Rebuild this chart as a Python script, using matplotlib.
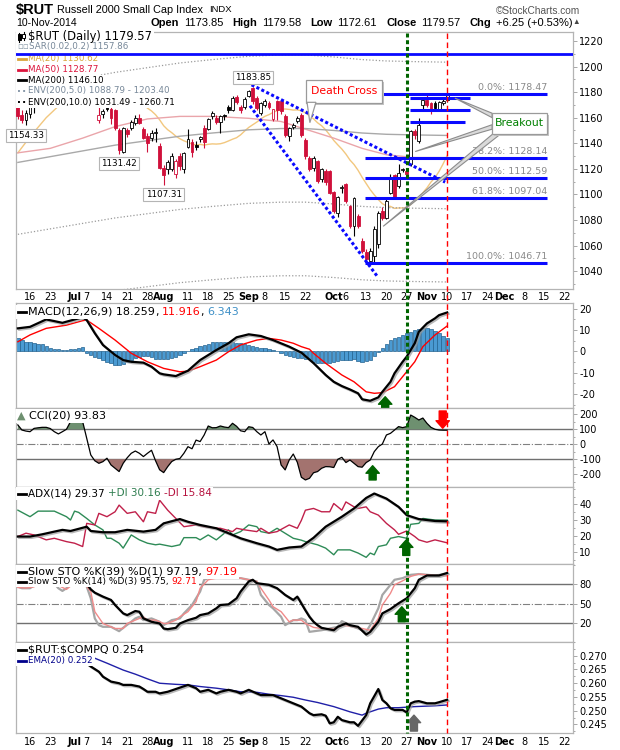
import numpy as np
import pandas as pd
import matplotlib
matplotlib.use("Agg")
import matplotlib.pyplot as plt
import matplotlib.patheffects as pe
from matplotlib.patches import Rectangle, Polygon, FancyArrowPatch
from matplotlib.lines import Line2D
from matplotlib.transforms import blended_transform_factory
from matplotlib.ticker import AutoMinorLocator, FormatStrFormatter

plt.rcParams["font.family"] = ["DejaVu Sans"]
plt.rcParams["axes.unicode_minus"] = False

W, H = 620, 750
HEAD = ["Liberation Sans", "DejaVu Sans"]

# sessions are counted from Mon 16 Jun 2014 (= 0); the chart starts 3 sessions earlier
first_session = -3

opens = [1168, 1162, 1158, 1163, 1168, 1172, 1180, 1183, 1188, 1187, 1176, 1184, 1183, 1192, 1193, 1207, 1201, 1206, 1187, 1176,
         1158, 1163, 1168, 1167, 1166, 1150, 1133, 1150, 1152, 1156, 1160, 1151, 1146, 1144, 1148, 1138, 1121, 1120, 1120, 1116,
         1130, 1120, 1137, 1141, 1139, 1143, 1152, 1151, 1161, 1160, 1157, 1162, 1168, 1166, 1176.5, 1168.5, 1168.5, 1177, 1183, 1175.3,
         1164, 1170, 1171.5, 1159, 1172.7, 1172.7, 1161, 1145.4, 1152.7, 1157.1, 1162.3, 1142.8, 1128.6, 1120.8, 1126, 1111.7, 1118, 1118.2, 1101.8, 1085.7,
         1105, 1107.8, 1090.9, 1075.3, 1083, 1063.6, 1055, 1048, 1051.9, 1061, 1087, 1081.8, 1101.3, 1114.8, 1106.5, 1119.3, 1118.2, 1123.4, 1149.3, 1141.5,
         1170.1, 1174, 1171.4, 1171.4, 1166.7, 1171.4, 1173.85]
highs = [1170, 1166, 1166, 1170, 1172, 1181, 1184, 1190, 1191, 1190, 1185, 1187, 1193, 1197, 1210, 1208, 1209, 1207, 1188, 1182,
         1168, 1167, 1170, 1170, 1167, 1152, 1153, 1152, 1158, 1162, 1163, 1153, 1148, 1150, 1152, 1140, 1123, 1127, 1132, 1128,
         1132, 1133, 1151, 1143, 1142, 1146, 1154, 1160, 1165, 1162, 1162, 1163, 1170, 1177, 1178, 1170, 1176, 1182, 1183.85, 1177,
         1172.5, 1174.5, 1173, 1167, 1174, 1174, 1163, 1153, 1156, 1161, 1164, 1144, 1130, 1130, 1127, 1120.5, 1119.5, 1119, 1102.5, 1099,
         1107, 1109, 1091.5, 1098, 1085, 1066, 1057, 1058, 1075, 1087, 1090, 1096, 1115.6, 1116, 1123.4, 1121, 1119, 1150, 1151, 1159.7,
         1175.5, 1179.2, 1172.5, 1173, 1173, 1174.5, 1179.58]
lows = [1159, 1156, 1154.33, 1160, 1164, 1170, 1176, 1181, 1184, 1175, 1174, 1178, 1181, 1190, 1192, 1198, 1200, 1186, 1174, 1173,
        1156, 1160, 1165, 1155, 1150, 1131.42, 1132, 1145, 1150, 1154, 1155, 1143, 1133, 1142, 1141, 1120, 1107.31, 1116, 1118, 1113,
        1119, 1117, 1136, 1129, 1135, 1141, 1136, 1150, 1159, 1155, 1148, 1158, 1164, 1165, 1171, 1164, 1167, 1176, 1171, 1166,
        1162, 1168.5, 1167, 1157.5, 1158, 1163, 1145, 1141.5, 1151, 1156, 1145, 1128, 1118, 1118.5, 1109, 1110, 1107, 1100, 1085.5, 1082,
        1101, 1093, 1074, 1067.5, 1074, 1054, 1047, 1046.71, 1047.5, 1058, 1080, 1081, 1100, 1096, 1105, 1117.5, 1113.5, 1122, 1143, 1140,
        1167, 1168, 1163, 1165, 1165, 1170, 1172.61]
closes = [1161, 1158, 1164, 1168, 1171, 1180, 1182, 1188, 1187, 1177, 1184, 1183, 1192, 1192, 1208, 1200, 1208, 1188, 1176, 1180,
          1162, 1165, 1167, 1160, 1152, 1135, 1152, 1147, 1157, 1160, 1156, 1144, 1140, 1148, 1149, 1121, 1115, 1125, 1130, 1126,
          1122, 1132, 1143, 1133, 1137, 1145, 1141, 1159, 1164, 1157, 1161, 1161.5, 1166, 1175.5, 1172.5, 1166, 1174.8, 1180.5, 1172.7, 1167.5,
          1171.4, 1173.2, 1168.5, 1167, 1166, 1164.9, 1146.7, 1151.9, 1154.5, 1159.7, 1146.7, 1129.8, 1119.5, 1128.6, 1110.4, 1119.5, 1110, 1101.3, 1087, 1097.9,
          1105.5, 1094.8, 1075.3, 1097.4, 1075.3, 1055.8, 1049.3, 1055.8, 1073.2, 1085.7, 1081.8, 1094.8, 1113, 1097.4, 1116.9, 1119.6, 1115.6, 1149.3, 1146.7, 1154.5,
          1174, 1170.1, 1166.2, 1167.5, 1172.2, 1173.32, 1179.57]

# moving averages (weekly points); MA(20) early part read, rest from closes
ma20_early_day = [-3, 0, 4, 8, 12]
ma20_early = [1132.5, 1145, 1160, 1172, 1180]
ma_day = [-3, 5, 13, 21, 29, 37, 45, 54, 62, 68, 75, 82, 88, 95, 103]
ma50 = [1132.5, 1136, 1144, 1153, 1159, 1161, 1161, 1159.5, 1157, 1151, 1144, 1136, 1131, 1128.8, 1128.77]
ma200 = [1125, 1129.5, 1134, 1138.5, 1142, 1145.5, 1148, 1150.5, 1151.5, 1151.5, 1150, 1148, 1147, 1146.5, 1146.1]
env_pct = [5.0, 10.0]

fib_names = ["0.0%", "38.2%", "50.0%", "61.8%", "100.0%"]
fib_levels = [1178.47, 1128.14, 1112.59, 1097.04, 1046.71]
top_line = 1209.6
short_levels = [1175.3, 1165.7, 1156.6]

macd_day = [-3, 0, 4, 8, 12, 13, 14, 16, 18, 21, 23, 25, 28, 30, 32, 33, 36, 39, 42, 46, 49, 51, 54, 57, 60, 64, 67, 70, 73, 75,
            77, 79, 81, 82, 84, 86, 87, 89, 90, 92, 93, 95, 96, 98, 100, 101, 103]
macd_line = [10.8, 11.5, 15.0, 13.4, 15.5, 16.0, 14.7, 8.5, 3.0, -1.7, -4.1, -4.9, -5.3, -7.2, -10.3, -10.8, -11.6, -9.1, -4.1, 0.6,
             3.8, 6.6, 8.0, 7.2, 5.3, 2.2, -0.6, -5.5, -11.1, -14.3, -16.3, -17.9, -19.7, -22.5, -23.2, -21.6, -19.0, -14.3, -10.3, -4.9,
             -2.5, 3.8, 9.2, 13.1, 15.5, 17.0, 18.259]
signal_day = [-3, 0, 4, 9, 13, 14, 17, 21, 25, 29, 33, 37, 39, 42, 46, 49, 52, 56, 59, 62, 65, 67, 69, 70, 73, 77, 80, 83, 85, 87,
              90, 92, 95, 97, 100, 103]
signal_line = [4.5, 7.7, 10.8, 12.3, 14.4, 14.7, 10.8, 5.3, -0.9, -4.9, -8.0, -9.6, -9.3, -7.2, -4.1, -0.2, 3.0, 5.3, 6.1, 5.3,
               3.8, 2.2, 1.0, -0.9, -5.6, -11.1, -14.3, -19.0, -19.7, -19.4, -16.6, -11.9, -4.9, 2.2, 7.7, 11.916]
macd_hist = [6.1, 5.5, 4.6, 4.2, 3.9, 3.6, 3.3, 2.5, 1.6, 1.2, 0.9, 0.8, 0.6, 0.9, 1.2, 1.6, 1.9, -0.8, -1.7, -2.5,
             -3.3, -4.2, -5.0, -5.7, -6.2, -6.4, -6.0, -5.2, -4.2, -3.0, -2.5, -2.4, -2.2, -2.8, -3.4, -3.8, -3.8, -3.5, -3.0, -2.5,
             -1.8, -1.0, 0.3, 1.2, 1.8, 2.6, 3.0, 3.6, 4.2, 4.6, 4.6, 4.6, 4.6, 4.4, 4.0, 3.7, 3.3, 3.0, 2.5, 2.2,
             1.8, 1.4, 1.0, 0.6, 0.2, -0.9, -1.5, -2.0, -2.6, -3.0, -3.3, -3.6, -3.8, -4.8, -5.7, -5.7, -5.7, -5.3, -4.9, -4.5,
             -4.1, -4.0, -3.9, -3.8, -4.3, -4.9, -4.6, -4.0, -2.0, -0.2, 1.5, 3.5, 5.2, 6.2, 6.8, 7.6, 8.6, 9.3, 9.8, 10.3,
             10.8, 11.0, 10.6, 9.6, 8.6, 7.2, 6.343]

cci = [129, 95, 88, 84, 106, 110, 113, 113, 105, 84, 69, 84, 100, 151, 155, 157, 151, 40, -71, -110,
       -127, -116, -93, -138, -160, -182, -127, -90, -60, -45, -60, -82, -60, -40, -110, -170, -189, -149, -115, -100,
       -95, -60, -16, -30, 28, 18, 62, 122, 110, 111, 122, 115, 111, 140, 120, 90, 84, 117, 112, 84,
       62, 84, 2, 29, -15, -138, -171, -105, -65, -120, -220, -238, -227, -190, -182, -160, -149, -150, -155, -100,
       -87, -122, -105, -127, -149, -153, -122, -105, -49, -16, 2, 62, 73, 95, 118, 111, 118, 195, 180, 162,
       175, 140, 113, 100, 95, 94, 93.83]

adx_day = [-3, 0, 3, 6, 8, 10, 14, 15, 18, 21, 24, 28, 31, 33, 37, 39, 42, 46, 49, 52, 56, 59, 61, 64, 67, 70, 73, 77, 80, 83,
           85, 88, 91, 93, 96, 100, 103]
adx_line = [19.8, 19.8, 21.2, 22.9, 24.0, 23.3, 26.0, 23.3, 22.5, 22.5, 24.0, 22.9, 24.0, 28.1, 30.8, 29.1, 27.1, 25.0, 21.9, 18.7,
            15.6, 13.5, 11.4, 12.9, 13.5, 19.0, 26.0, 32.3, 37.5, 44.1, 46.9, 43.7, 38.5, 33.3, 30.8, 29.6, 29.37]
pdi_day = [-3, 0, 2, 6, 9, 10, 11, 12, 14, 16, 18, 19, 20, 22, 23, 25, 27, 29, 31, 32, 35, 37, 38, 41, 42, 44, 46, 47, 49, 50,
           52, 54, 56, 57, 59, 61, 65, 67, 68, 71, 73, 75, 76, 79, 81, 83, 84, 85, 86, 88, 89, 91, 93, 94, 96, 97, 100, 103]
pdi_line = [36.4, 32.3, 35.8, 35.8, 32.3, 30.2, 35.8, 35.0, 31.2, 27.1, 24.0, 18.7, 18.7, 15.6, 12.5, 20.8, 17.7, 15.6, 14.6, 15.0,
            13.5, 14.6, 19.1, 19.1, 17.7, 20.8, 17.7, 19.8, 24.0, 20.8, 22.9, 27.1, 26.0, 22.9, 21.9, 25.0, 18.7, 17.5, 16.6, 14.6,
            12.5, 8.3, 11.4, 11.4, 9.4, 6.7, 9.4, 8.3, 13.5, 14.6, 18.7, 19.8, 18.7, 27.5, 28.1, 31.2, 30.2, 30.16]
ndi_day = [-3, -1, 1, 4, 6, 9, 11, 13, 14, 16, 17, 19, 21, 22, 24, 26, 28, 29, 31, 32, 34, 36, 38, 41, 43, 46, 47, 50, 51, 53,
           56, 57, 59, 61, 64, 66, 67, 68, 70, 72, 74, 75, 77, 78, 80, 81, 83, 84, 86, 88, 90, 91, 93, 95, 96, 98, 100, 103]
ndi_line = [19.8, 21.9, 20.8, 17.7, 18.7, 16.6, 15.6, 13.5, 28.1, 27.1, 34.4, 32.3, 35.4, 39.6, 34.4, 35.4, 29.1, 35.4, 34.4, 42.7,
            36.4, 31.2, 26.0, 27.1, 26.0, 25.0, 25.0, 22.9, 25.0, 24.0, 22.9, 25.0, 21.9, 22.9, 27.1, 25.0, 30.0, 36.4, 37.5, 35.4,
            35.4, 40.6, 36.4, 41.6, 38.5, 37.5, 38.5, 35.4, 33.3, 28.1, 24.0, 21.2, 23.3, 19.8, 17.7, 16.2, 17.7, 15.84]

sto39_day = [-3, 3, 9, 13, 14, 15, 16, 18, 20, 21, 23, 24, 26, 27, 28, 30, 32, 33, 34, 36, 37, 39, 41, 42, 44, 46, 47, 49, 51, 52,
             54, 55, 56, 59, 61, 63, 65, 66, 68, 69, 70, 71, 72, 75, 76, 78, 79, 81, 83, 84, 86, 87, 89, 91, 93, 95, 96, 98, 101, 103]
sto39_k = [95, 97, 97, 97, 80, 72, 67, 61, 55.9, 48.2, 35.4, 32.8, 39.0, 37.9, 27.7, 22.6, 20.0, 12.3, 11.3, 13.3,
           20.0, 25.1, 28.7, 32.8, 35.4, 43.1, 48.2, 49.2, 58.4, 68.7, 84.1, 86.7, 81.5, 79.0, 73.8, 63.6, 55.9, 61.0, 40.0, 30.2,
           22.6, 17.4, 13.3, 9.7, 14.9, 20.0, 17.4, 14.9, 3.1, 7.2, 22.6, 35.4, 42.0, 50.8, 58.4, 73.8, 86.7, 93.3, 93.3, 97.19]
sto14_day = [-3, -2, 0, 1, 3, 5, 7, 8, 9, 11, 13, 14, 15, 16, 17, 18, 20, 22, 23, 25, 26, 27, 28, 30, 32, 33, 35, 37, 38, 40,
             42, 43, 44, 48, 52, 54, 56, 57, 59, 60, 62, 63, 65, 66, 67, 68, 69, 72, 74, 76, 77, 79, 81, 83, 84, 86, 87, 89, 90, 92,
             94, 96, 100, 103]
sto14_k = [76, 73.8, 73.8, 78, 90, 88, 73.8, 69.7, 73.8, 90, 92, 76.4, 58.4, 27.7, 17.4, 14.9, 14.9, 8.2, 13.3, 22.6,
           27.7, 30.2, 25.1, 27.7, 22.6, 17.4, 25.1, 27.7, 35.4, 48.2, 68.7, 86.7, 89.2, 89.2, 89.2, 86.7, 84.1, 63.6, 48.2, 43.1,
           30.2, 17.4, 25.1, 25.1, 27.7, 25.1, 7.2, 9.7, 12.3, 14.9, 23.6, 17.4, 12.3, 7.2, 17.4, 43.1, 63.6, 79.0, 86.7, 89.2,
           94.3, 95.4, 93.3, 95.75]
sto14d_day = [-3, -1, 1, 3, 5, 7, 9, 11, 13, 14, 15, 16, 18, 19, 21, 23, 24, 26, 28, 29, 31, 33, 34, 36, 37, 39, 41, 42, 44, 46,
              52, 54, 56, 57, 59, 60, 62, 64, 65, 67, 68, 70, 72, 75, 77, 80, 82, 84, 86, 87, 89, 90, 92, 94, 96, 100, 103]
sto14_d = [75, 74, 76, 85, 88, 78, 72, 82, 90, 76.4, 68.7, 38.0, 20.0, 17.4, 12.3, 12.3, 20.0, 25.1, 30.2, 25.1,
           25.1, 20.0, 20.0, 25.1, 30.2, 38.0, 53.3, 73.8, 86.7, 89.2, 89.2, 86.7, 84.1, 73.8, 55.9, 45.6, 38.0, 22.6, 25.1, 25.1,
           20.0, 14.0, 12.3, 11.3, 17.4, 14.9, 12.3, 9.7, 27.7, 48.2, 66.1, 79.0, 85.1, 91.8, 95.4, 93.3, 92.71]

ratio_day = [14, 15, 17, 18, 20, 22, 23, 25, 27, 28, 29, 31, 32, 34, 36, 37, 39, 41, 42, 44, 46, 47, 49, 51, 52, 54, 56, 57, 59, 60,
             62, 64, 65, 67, 68, 69, 70, 72, 73, 74, 75, 76, 77, 79, 80, 81, 83, 84, 86, 87, 88, 89, 90, 92, 93, 94, 95, 96, 98, 100,
             101, 103]
ratio = [0.2672, 0.2661, 0.2642, 0.2624, 0.2606, 0.2600, 0.2594, 0.2594, 0.2588, 0.2579, 0.2569, 0.2569, 0.2563, 0.2569, 0.2579,
         0.2584, 0.2594, 0.2582, 0.2569, 0.2576, 0.2563, 0.2569, 0.2576, 0.2569, 0.2563, 0.2576, 0.2563, 0.2557, 0.2557, 0.2557,
         0.2545, 0.2533, 0.2527, 0.2515, 0.2503, 0.2491, 0.2484, 0.2487, 0.2482, 0.2454, 0.2458, 0.2478, 0.2466, 0.2458, 0.2458,
         0.2445, 0.2484, 0.2527, 0.2579, 0.2539, 0.2527, 0.2509, 0.2503, 0.2503, 0.2494, 0.2527, 0.2533, 0.2535, 0.2527, 0.2527,
         0.2531, 0.2540]
ema_day = [15, 16, 19, 23, 26, 29, 32, 36, 39, 42, 46, 49, 52, 56, 59, 62, 65, 68, 71, 75, 79, 82, 83, 86, 88, 91, 95, 100, 103]
ratio_ema = [0.2695, 0.2691, 0.2673, 0.2648, 0.2633, 0.2616, 0.2600, 0.2596, 0.2594, 0.2588, 0.2582, 0.2576, 0.2569, 0.2567,
             0.2560, 0.2555, 0.2549, 0.2539, 0.2530, 0.2515, 0.2496, 0.2484, 0.2491, 0.2506, 0.2511, 0.2511, 0.2515, 0.2518, 0.2521]

tick_days = ["06-16", "06-23", "07-01", "07-07", "07-14", "07-21", "07-28", "08-01", "08-11", "08-18", "08-25",
             "09-02", "09-08", "09-15", "09-22", "10-01", "10-06", "10-13", "10-20", "10-27", "11-03", "11-10",
             "11-17", "11-24", "12-01", "12-08", "12-15", "12-22"]
tick_labels = ["16", "23", "Jul", "7", "14", "21", "28", "Aug", "11", "18", "25", "Sep", "8", "15", "22",
               "Oct", "6", "13", "20", "27", "Nov", "10", "17", "24", "Dec", "8", "15", "22"]
months = {"Jul", "Aug", "Sep", "Oct", "Nov", "Dec"}

breakout_day = 93
today = 103

RED = "#d0103a"
BLUE = "#0a0aff"
SHADOW = [pe.SimpleLineShadow(offset=(1, -1), shadow_color="#9a9a9a", alpha=0.7), pe.Normal()]

# trading calendar -> session numbers
holidays = pd.to_datetime(["2014-07-04", "2014-09-01", "2014-11-27", "2014-12-25"])
days = pd.bdate_range("2014-06-11", "2014-12-31")
days = days[~days.isin(holidays)]
session_of = {d.strftime("%m-%d"): i + first_session for i, d in enumerate(days)}
ticks = [session_of[d] for d in tick_days]
sessions = np.arange(first_session, first_session + len(closes))

fig = plt.figure(figsize=(W / 100, H / 100), dpi=100)


def panel(top, bottom):
    ax = fig.add_axes([16 / W, 1 - bottom / H, (573 - 16) / W, (bottom - top) / H])
    ax.set_xlim(-3.46, 134.07)
    ax.yaxis.tick_right()
    ax.tick_params(axis="y", which="both", direction="out", width=0.6, color="#999999", labelsize=7, pad=1.5)
    ax.tick_params(axis="y", which="major", length=3)
    ax.tick_params(axis="y", which="minor", length=1.5)
    ax.tick_params(axis="x", length=0, labelbottom=False)
    ax.yaxis.set_minor_locator(AutoMinorLocator(2))
    for s in ax.spines.values():
        s.set_color("#b4b4b4")
        s.set_linewidth(0.9)
    return ax


def put(x, y, parts, right=False, ax=None, family=None, z=9, space=0.30):
    r = fig.canvas.get_renderer()
    made = []
    x0 = x
    for text, color, size, weight in parts:
        sp = size * space * 100 / 72
        lead = len(text) - len(text.lstrip(" "))
        trail = len(text) - len(text.rstrip(" "))
        x += lead * sp
        kw = dict(fontsize=size, color=color, fontweight=weight, va="center", ha="left", zorder=z)
        if family:
            kw["family"] = family
        if ax is None:
            t = fig.text(x / W, 1 - y / H, text.strip(" "), **kw)
        else:
            t = ax.text(x / W, 1 - y / H, text.strip(" "), transform=fig.transFigure, **kw)
        x += t.get_window_extent(r).width + trail * sp
        made.append(t)
    if right:
        shift = x - x0
        for t in made:
            t.set_x(t.get_position()[0] - shift / W)
    return x


def legend_row(ax, y, parts, size, mark=None, color="black", x0=17):
    x_text = x0 + (11 if mark else 0)
    x_end = put(x_text, y, [(t, c, size, "normal") for t, c in parts], ax=ax)
    h = size * 1.75
    ax.add_patch(Rectangle(((x0 - 1) / W, 1 - (y + h / 2) / H), (x_end - x0 + 3) / W, h / H,
                           transform=fig.transFigure, fc="white", ec="none", zorder=8, clip_on=False))
    if mark == "icon":
        for cx, b0, b1, filled in [(x0 + 2, y - 2, y + 3, True), (x0 + 6.5, y - 3, y + 1.5, False)]:
            ax.add_line(Line2D([cx / W] * 2, [1 - (b1 + 2) / H, 1 - (b0 - 2) / H], transform=fig.transFigure,
                               color="black", lw=0.8, zorder=9, clip_on=False))
            ax.add_patch(Rectangle(((cx - 1.5) / W, 1 - b1 / H), 3 / W, (b1 - b0) / H, transform=fig.transFigure,
                                   fc="black" if filled else "white", ec="black", lw=0.7, zorder=9, clip_on=False))
    elif mark:
        ax.add_line(Line2D([(x0 + 0.5) / W, (x0 + 8.5) / W], [1 - y / H] * 2, transform=fig.transFigure,
                           color=color, lw=2 if mark == "-" else 1.4, ls=mark, zorder=9, clip_on=False))


def block_arrow(ax, x, tail, tip, color):
    ax.add_patch(FancyArrowPatch((x, tail), (x, tip), arrowstyle="simple,head_length=0.45,head_width=0.8,tail_width=0.42",
                                 mutation_scale=12, color=color, shrinkA=0, shrinkB=0, zorder=7, clip_on=False))


ax_p = panel(32, 289)
ax_m = panel(303, 408)
ax_c = panel(408, 487)
ax_a = panel(487, 564)
ax_s = panel(564, 642)
ax_r = panel(642, 733)

# ---------------- price panel ----------------
ax_p.set_ylim(1026, 1227)
ax_p.set_yticks(range(1040, 1221, 20))

ma20 = pd.Series(closes).rolling(20).mean()
ma20_day = list(ma20_early_day) + list(sessions[19:])
ma20_val = list(ma20_early) + list(ma20.values[19:])
ax_p.plot(ma20_day, ma20_val, color="#f2c77e", lw=1, zorder=2)
ax_p.plot(ma_day, ma50, color="#eaa5aa", lw=1, zorder=2)
ax_p.plot(ma_day, ma200, color="#a9a9a9", lw=1, zorder=2)
for pct in env_pct:
    for sign in (1, -1):
        ax_p.plot(ma_day, np.array(ma200) * (1 + sign * pct / 100), color="#9a9a9a", lw=0.9,
                  ls=(0, (1, 1.6)), zorder=2)

prev = [opens[0]] + closes[:-1]
for s, o, h, l, c, p in zip(sessions, opens, highs, lows, closes, prev):
    col = RED if c < p else "black"
    ax_p.vlines(s, l, h, color=col, lw=0.8, zorder=3)
    face = col if c < o else "white"
    ax_p.add_patch(Rectangle((s - 0.36, min(o, c)), 0.72, max(abs(c - o), 0.4), fc=face, ec=col, lw=0.6, zorder=4))

# fibonacci and support lines
ax_p.axhline(top_line, color=BLUE, lw=2, zorder=10)
fib_start = [86.9, 82.7, 82.7, 82.7, 82.7]
ax_p.hlines(fib_levels, fib_start, 127.7, color=BLUE, lw=2.2, zorder=5)
for name, lev in zip(fib_names, fib_levels):
    ax_p.annotate(f"{name}: {lev:.2f}", (127.7, lev), xytext=(0, 2), textcoords="offset pixels",
                  ha="right", va="bottom", fontsize=6.8, color="#8a8a8a", zorder=5)
ax_p.hlines(short_levels, 93.8, [108.6, 108.6, 107.4], color=BLUE, lw=2.2, zorder=5)

# falling trend lines from the September high
ax_p.plot([54.7, 102.5], [1185.7, 1109.6], color=BLUE, lw=2.2, ls=(0, (1, 0.8)), zorder=5)
ax_p.plot([54.3, 85.7], [1169.3, 1036.1], color=BLUE, lw=2.2, ls=(0, (1, 0.8)), zorder=5)

# price labels at the swing points
for s, kind, dy in [(-1, "low", -6), (22, "low", -5), (33, "low", -5), (55, "high", 5)]:
    i = s - first_session
    val = lows[i] if kind == "low" else highs[i]
    ax_p.annotate(f"{val:.2f}", (s, val), xytext=(0, dy), textcoords="offset pixels", ha="center",
                  va="top" if kind == "low" else "bottom", fontsize=6.3, zorder=6, annotation_clip=False,
                  bbox=dict(boxstyle="square,pad=0.25", fc="white", ec="#b5b5b5", lw=0.8))

# "Death Cross" callout
ax_p.add_patch(Rectangle((68.6, 1170.1), 18.8, 17.9, fc="#c4c4c4", ec="none", zorder=6))
ax_p.add_patch(Rectangle((68.1, 1171.7), 18.8, 17.9, fc="white", ec="#9a9a9a", lw=0.9, zorder=6.5))
ax_p.add_patch(Polygon([(68.4, 1172.0), (70.6, 1172.0), (69.1, 1156.1)], closed=True, fc="white",
                       ec="#9a9a9a", lw=0.9, zorder=6.6))
ax_p.text(77.5, 1180.6, "Death Cross", color="red", fontsize=7.8, ha="center", va="center", zorder=7)

# "Breakout" callout
for base, tip in [([(114.1, 1163.5), (114.1, 1160.0)], (104.9, 1175.3)),
                  ([(114.1, 1154.5), (114.1, 1151.0)], (95.1, 1133.5)),
                  ([(115.1, 1149.5), (115.9, 1146.5)], (87.2, 1075.0))]:
    ax_p.add_patch(Polygon(base + [tip], closed=True, fc="#dadada", ec="#8c8c8c", lw=0.8, zorder=7))
ax_p.add_patch(Rectangle((114.6, 1145.9), 13.6, 16.4, fc="#c4c4c4", ec="none", zorder=7.1))
ax_p.add_patch(Rectangle((114.1, 1147.5), 13.6, 16.4, fc="white", ec="#9a9a9a", lw=0.9, zorder=7.2))
ax_p.text(120.9, 1155.7, "Breakout", color="#008000", fontsize=7.8, ha="center", va="center", zorder=7.3)

legend_row(ax_p, 36.5, [("$RUT (Daily) 1179.57", "black")], 8.3, mark="icon")
legend_row(ax_p, 47, [("\u25ab\u25ab", "#8a9aa8"), ("SAR(0.02,0.2) 1157.86", "#778899")], 6.3)
legend_row(ax_p, 58.5, [("MA(20) 1130.62", "#d9a53a")], 6.3, mark="-", color="#d9a53a")
legend_row(ax_p, 69.5, [("MA(50) 1128.77", "#dc143c")], 6.3, mark="-", color="#dc143c")
legend_row(ax_p, 80.3, [("MA(200) 1146.10", "black")], 6.3, mark="-")
legend_row(ax_p, 91, [("ENV(200,5.0) 1088.79 - 1203.40", "#778899")], 6.3, mark=":", color="#8899aa")
legend_row(ax_p, 102, [("ENV(200,10.0) 1031.49 - 1260.71", "black")], 6.3, mark=":")

# ---------------- MACD ----------------
ax_m.set_ylim(-26.6, 22.7)
ax_m.set_yticks([-20, -10, 0, 10, 20])
ax_m.bar(sessions, macd_hist, width=0.82, color="#4a9ad2", edgecolor="#23628f", linewidth=0.5, zorder=2)
ax_m.plot(signal_day, signal_line, color="red", lw=1, zorder=3)
ax_m.plot(macd_day, macd_line, color="black", lw=1.6, zorder=4, path_effects=SHADOW)
legend_row(ax_m, 312, [("MACD(12,26,9) 18.259", "black"), (", ", "black"), ("11.916", "red"),
                       (", ", "black"), ("6.343", "#3d8fc6")], 8, mark="-")
block_arrow(ax_m, 87.7, -28.0, -21.3, "#006400")

# ---------------- CCI ----------------
ax_c.set_ylim(-285, 242)
ax_c.set_yticks([-200, -100, 0, 100, 200])
cci_arr = np.array(cci, dtype=float)
ax_c.fill_between(sessions, cci_arr, 100, where=cci_arr >= 100, interpolate=True, color="#6e9070", lw=0, zorder=2)
ax_c.fill_between(sessions, cci_arr, -100, where=cci_arr <= -100, interpolate=True, color="#a3736f", lw=0, zorder=2)
for lev in (100, -100):
    ax_c.axhline(lev, color="#707070", lw=1, zorder=1)
ax_c.axhline(0, color="#808080", lw=0.8, ls="-.", zorder=1)
ax_c.plot(sessions, cci_arr, color="black", lw=0.9, zorder=3)
legend_row(ax_c, 416, [("\u25b2", "#6e9070"), (" CCI(20) 93.83", "black")], 8, x0=17)
block_arrow(ax_c, 84.6, -238, -143, "#006400")
block_arrow(ax_c, 101.9, 222, 107, "#ff0000")

# ---------------- ADX ----------------
ax_a.set_ylim(2.5, 51)
ax_a.set_yticks([10, 20, 30, 40])
ax_a.plot(pdi_day, pdi_line, color="#2e8b57", lw=1, zorder=2)
ax_a.plot(ndi_day, ndi_line, color="#c0204a", lw=1, zorder=2)
ax_a.plot(adx_day, adx_line, color="black", lw=1.6, zorder=3, path_effects=SHADOW)
legend_row(ax_a, 493.5, [("ADX(14) 29.37 ", "black"), ("+DI 30.16 ", "#2e7d4f"), ("-DI 15.84", "#b5123e")],
           7.5, mark="-")
block_arrow(ax_a, 92.9, 7.9, 17.7, "#006400")

# ---------------- Slow stochastics ----------------
ax_s.set_ylim(-8.3, 110.8)
ax_s.set_yticks([20, 50, 80])
ax_s.yaxis.set_minor_locator(AutoMinorLocator(1))
for lev in (80, 20):
    ax_s.axhline(lev, color="#707070", lw=1, zorder=1)
ax_s.axhline(50, color="#808080", lw=0.8, ls="-.", zorder=1)
ax_s.plot(sto14_day, sto14_k, color="#a6a6a6", lw=1.6, zorder=2)
ax_s.plot(sto14d_day, sto14_d, color="#f08a8a", lw=1, zorder=3)
ax_s.plot(sto39_day, sto39_k, color="black", lw=1.6, zorder=4, path_effects=SHADOW)
legend_row(ax_s, 572, [("Slow STO %K(39) %D(1) 97.19, ", "black"), ("97.19", "red")], 8, mark="-")
legend_row(ax_s, 581.5, [("Slow STO %K(14) %D(3) 95.75, ", "black"), ("92.71", "red")], 6.5, mark="-")
block_arrow(ax_s, 91.8, 22.5, 45.5, "#006400")

# ---------------- $RUT:$COMPQ ----------------
ax_r.set_ylim(0.2419, 0.275)
ax_r.set_yticks([0.245, 0.250, 0.255, 0.260, 0.265, 0.270])
ax_r.yaxis.set_major_formatter(FormatStrFormatter("%.3f"))
ax_r.plot(ema_day, ratio_ema, color="#2020a8", lw=1, zorder=2)
ax_r.plot(ratio_day, ratio, color="black", lw=1.6, zorder=3, path_effects=SHADOW)
legend_row(ax_r, 649.5, [("\\$RUT:\\$COMPQ 0.254", "black")], 8, mark="-")
legend_row(ax_r, 660.5, [("EMA(20) 0.252", "#00008b")], 6.3, mark="-", color="#00008b")
block_arrow(ax_r, 94.8, 0.2426, 0.2484, "#666666")

# date labels under the price panel and at the bottom
for ax, pad in ((ax_p, 2.2), (ax_r, 2.9)):
    ax.set_xticks(ticks)
    ax.set_xticklabels(tick_labels)
    ax.tick_params(axis="x", labelbottom=True, length=0, pad=pad, labelsize=7)
    for lbl in ax.get_xticklabels():
        if lbl.get_text() in months:
            lbl.set_fontweight("bold")

# vertical marker lines through all panels
tr = blended_transform_factory(ax_p.transData, fig.transFigure)
fig.add_artist(Line2D([breakout_day] * 2, [1 - 33 / H, 1 - 733 / H], transform=tr, color="#006400",
                      lw=2.2, ls=(0, (1.3, 0.9))))
fig.add_artist(Line2D([today] * 2, [1 - 33 / H, 1 - 733 / H], transform=tr, color="#ff0000",
                      lw=1, ls=(0, (4, 2.5))))

# header
put(16, 10, [("$RUT", "black", 10.5, "bold"), (" Russell 2000 Small Cap Index", "black", 7.8, "normal"),
             ("  INDX", "black", 6.8, "normal")], family=HEAD)
put(580, 11, [("\u00a9StockCharts.com", "#555555", 7.3, "normal")], right=True, family=HEAD)
put(16, 23, [("10-Nov-2014", "black", 7.6, "normal")], family=HEAD)
put(580, 23, [("Open", "black", 8, "bold"), (" 1173.85  ", "black", 8, "normal"),
              ("High", "black", 8, "bold"), (" 1179.58  ", "black", 8, "normal"),
              ("Low", "black", 8, "bold"), (" 1172.61  ", "black", 8, "normal"),
              ("Close", "black", 8, "bold"), (" 1179.57  ", "black", 8, "normal"),
              ("Chg", "black", 8, "bold"), (" +6.25 (+0.53%)", "black", 8, "normal"),
              ("\u25b2", "#444444", 5.5, "normal")], right=True, family=HEAD, space=0.42)

fig.savefig("out.png", dpi=100)
